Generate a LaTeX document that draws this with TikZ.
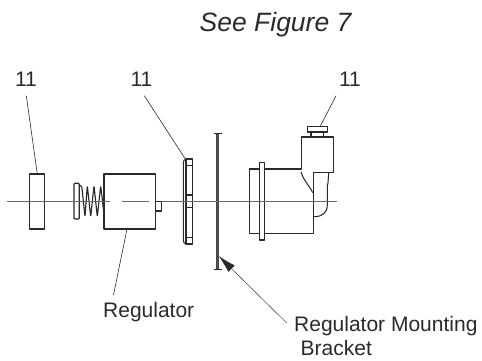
\documentclass[tikz,border=0pt]{standalone}
\usepackage{fontspec}
\setmainfont{Liberation Sans}
\usepackage{xcolor}
\definecolor{inkDark}{HTML}{2B2A2B}
\definecolor{axisGray}{HTML}{6A6A6A}
\definecolor{bracketGray}{HTML}{4A4A4A}
\usetikzlibrary{positioning,arrows.meta}
\tikzset{
  partLine/.style={
    draw=inkDark,
    line width=1.05pt,
    line join=round
 },
  partBox/.style={
    rectangle,
    partLine,
    fill=white,
    inner sep=0pt,
    outer sep=0pt
 },
  leaderLine/.style={
    draw=inkDark,
    line width=0.6pt
 },
  arrowLine/.style={
    draw=inkDark,
    line width=0.45pt,
    -{Latex[length=18pt,width=9pt]}
 },
  axisLine/.style={
    draw=axisGray,
    line width=0.55pt
 },
  calloutText/.style={
    anchor=base west,
    inner sep=0pt,
    text=inkDark,
    font=\fontsize{21}{24}\selectfont
 },
  numberText/.style={
    anchor=base,
    inner sep=0pt,
    text=inkDark,
    font=\fontsize{21}{24}\selectfont
 }
}

\begin{document}
\begin{tikzpicture}[x=1pt,y=-1pt]
            \useasboundingbox (0,0) rectangle (482,360);

            % Left washer and regulator body
            \node[partBox, minimum width=15.4pt, minimum height=55pt, anchor=north west] (washer) at (29.3,174) {};
            \node[partBox, minimum width=51.3pt, minimum height=55pt, anchor=north west] (regulator) at (104,174) {};
            \node[partBox, minimum width=6.5pt, minimum height=9.7pt, anchor=north west] (knob) at (155.3,201.3) {};

            % Spring on the regulator
            \draw[partLine, line width=1.15pt, rounded corners=1.2pt]
              (79,185.7) -- (81.7,185.7) -- (85,216.7) -- (87.3,185.7) -- (90.7,216.7) -- (94,185.7) -- (97.3,216.7) -- (100.7,185.7) -- (104,214);
            \node[partBox, rounded corners=1pt, minimum width=5.3pt, minimum height=35.7pt, line width=1.3pt, anchor=north west] (flange) at (74,183.3) {};

            % Nut
            \draw[partLine, fill=white, rounded corners=1.5pt] (192.3,159) -- (184.5,159) -- (183.3,162) -- (183.3,241) -- (184.5,244) -- (192.3,244);
            \node[partBox, minimum width=6.3pt, minimum height=85pt, anchor=north west] (nut) at (186,159) {};
            \draw[partLine] (186,165.8) -- (192.3,165.8);
            \draw[partLine] (186,195) -- (192.3,195);
            \draw[partLine] (186,207.5) -- (192.3,207.5);
            \draw[partLine] (186,237.5) -- (192.3,237.5);

            % Elbow fitting
            \node[partBox, minimum width=10pt, minimum height=64.7pt, anchor=north west] (backPlate) at (249.3,169) {};
            \draw[partLine] (264.3,169) -- (301.2,169) -- (301.2,137) -- (333.3,137) -- (333.3,172.3) -- (313.3,172.3) -- (313.3,233.7) -- (264.3,233.7);
            \draw[partLine] (301.2,172) .. controls (303,180) and (309,185) .. (312.8,192.7);
            \draw[partLine] (328.7,172.3) -- (328,183) -- (327.3,186) -- (327.3,205) .. controls (327.3,213) and (322,216.7) .. (314,216.7);
            \node[partBox, minimum width=5pt, minimum height=77.3pt, anchor=north west] (elbowFlange) at (259.3,162.7) {};
            \node[partBox, minimum width=12.7pt, minimum height=5pt, anchor=north west] (stem) at (311,132) {};
            \node[partBox, minimum width=20.4pt, minimum height=5.3pt, anchor=north west] (cap) at (307.3,126.7) {};

            % Mounting bracket
            \node[rectangle, fill=bracketGray, inner sep=0pt, minimum width=2.6pt, minimum height=136.3pt, anchor=north] (bracket) at (217.5,132.7) {};
            \draw[partLine, line width=0.6pt] (213.5,133) -- (221.5,133);
            \draw[partLine, line width=0.6pt] (213.5,269) -- (221.5,269);

            % Center line
            \draw[axisLine] (7,201.3) -- (110,201.3);
            \draw[axisLine] (122,201.3) -- (149,201.3);
            \draw[axisLine] (162,201.3) -- (337,201.3);

            % Labels
            \node[calloutText, font=\fontsize{26.5}{30}\selectfont\itshape] (seeFigure) at (199.5,31) {See Figure 7};
            \node[numberText] (numA) at (26,86) {11};
            \node[numberText] (numB) at (141.5,86) {11};
            \node[numberText] (numC) at (350,86) {11};
            \node[calloutText] (regLabel) at (103,317.7) {Regulator};
            \node[calloutText] (mountLabel) at (294,331) {Regulator Mounting};
            \node[calloutText] (bracketLabel) at (300.5,355) {Bracket};

            % Leader ends
            \coordinate (numAEnd) at (26.3,95.7);
            \coordinate (numBEnd) at (144.3,95.7);
            \coordinate (numCEnd) at (336,95.7);
            \coordinate (regEnd) at (113.5,295);
            \coordinate (mountEnd) at (286.7,323);
            \coordinate (washerTop) at (37.3,174);
            \coordinate (regBottom) at (127,229);
            \coordinate (nutTop) at (185,158.5);
            \coordinate (capTop) at (320,126.7);
            \coordinate (bracketTip) at (218.7,256);

            \draw[leaderLine] (numAEnd) -- (washerTop);
            \draw[leaderLine] (numBEnd) -- (nutTop);
            \draw[leaderLine] (numCEnd) -- (capTop);
            \draw[leaderLine] (regEnd) -- (regBottom);
            \draw[arrowLine] (mountEnd) -- (bracketTip);
        \end{tikzpicture}
\end{document}
